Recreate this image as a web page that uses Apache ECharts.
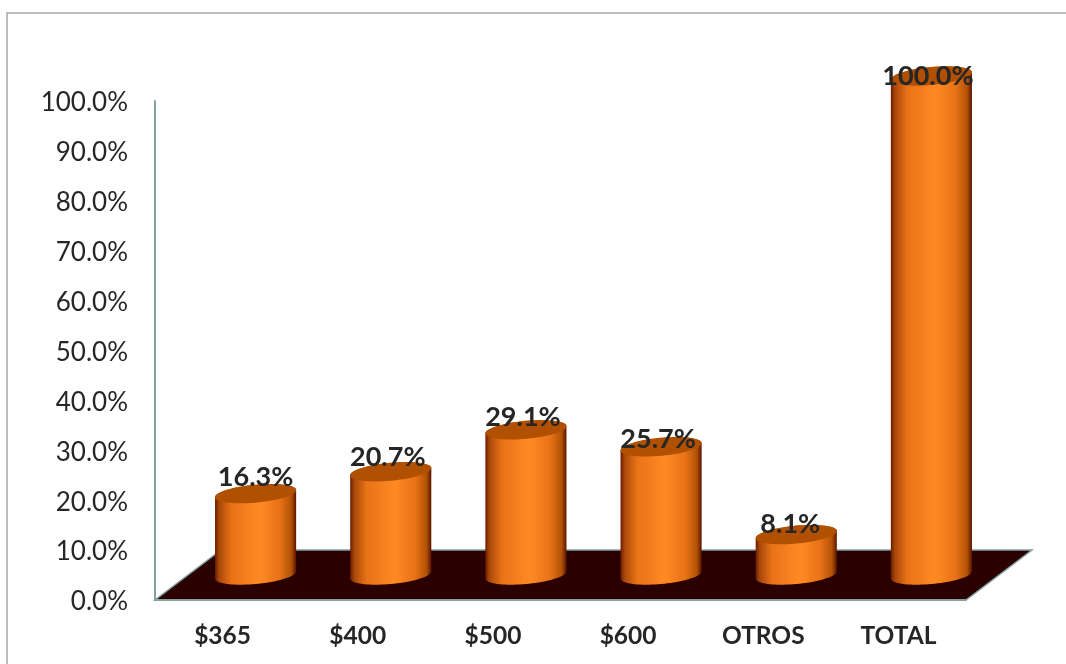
<!DOCTYPE html>
<html>
<head>
<meta charset="utf-8">
<style>html,body{margin:0;padding:0;background:#fff;overflow:hidden}#c{width:1066px;height:664px}</style>
<script src="https://cdn.jsdelivr.net/npm/echarts@6/dist/echarts.min.js"></script>
</head>
<body>
<div id="c"></div>
<script>
const categories = ['$365', '$400', '$500', '$600', 'OTROS', 'TOTAL'];
const values = [16.3, 20.7, 29.1, 25.7, 8.1, 100.0];

// layout and style, separate from the data
const FONT = 'Lato, "Noto Sans", sans-serif';
const INK = '#262626';
const AXIS = '#86a0a0';
const depthX = 66, depthY = -50;      // floor depth in pixels
const barWidthRatio = 0.6;
const ellipseB = 9, ellipseTilt = 3.6;
const labelLift = [16, 14, 12, 7, 10, 0];
const labelShift = [0, -3, -3, -3, -6, -3.5];

function ellipsePts(cx, cy, a, from, to, n) {
  const pts = [];
  for (let i = 0; i <= n; i++) {
    const t = from + (to - from) * i / n;
    pts.push([cx + a * Math.cos(t), cy + ellipseB * Math.sin(t) - ellipseTilt * Math.cos(t)]);
  }
  return pts;
}

function renderFloor(params, api) {
  const band = api.size([1, 0])[0];
  const o = api.coord([0, 0]);
  const e = api.coord([categories.length - 1, 0]);
  const x0 = o[0] - band / 2, x1 = e[0] + band / 2, y = o[1];
  return {
    type: 'polygon',
    shape: { points: [[x0, y], [x1, y], [x1 + depthX, y + depthY], [x0 + depthX, y + depthY]] },
    style: { fill: '#2b0000', stroke: AXIS, lineWidth: 1.5 },
    silent: true
  };
}

function renderCylinder(params, api) {
  const i = params.dataIndex;
  const v = api.value(1);
  const base = api.coord([i, 0]);
  const top = api.coord([i, v]);
  const band = api.size([1, 0])[0];
  const a = band * barWidthRatio / 2;
  const cx = base[0] + depthX / 2;
  const by = base[1] + depthY / 2;
  const ty = top[1] + depthY / 2;
  const body = ellipsePts(cx, by, a, 0, Math.PI, 40).concat(ellipsePts(cx, ty, a, Math.PI, 2 * Math.PI, 40));
  const cap = ellipsePts(cx, ty, a, 0, 2 * Math.PI, 80);
  return {
    type: 'group',
    children: [
      {
        type: 'polygon',
        shape: { points: body },
        style: {
          fill: {
            type: 'linear', x: 0, y: 0, x2: 1, y2: 0,
            colorStops: [
              { offset: 0, color: '#6a1c00' },
              { offset: 0.05, color: '#a8480a' },
              { offset: 0.2, color: '#e87216' },
              { offset: 0.55, color: '#ff8a24' },
              { offset: 0.8, color: '#e87216' },
              { offset: 0.94, color: '#b25206' },
              { offset: 1, color: '#5a1400' }
            ]
          }
        }
      },
      { type: 'polygon', shape: { points: cap }, style: { fill: '#b05000' } },
      {
        type: 'text',
        z2: 100,
        style: {
          text: v.toFixed(1) + '%',
          x: cx + labelShift[i],
          y: ty - labelLift[i],
          align: 'center',
          verticalAlign: 'middle',
          font: 'bold 27px ' + FONT,
          fill: INK
        }
      }
    ]
  };
}

const chart = echarts.init(document.getElementById('c'), null, { renderer: 'canvas' });
chart.setOption({
  animation: false,
  backgroundColor: '#fff',
  graphic: [{
    type: 'rect', silent: true, z: -1,
    shape: { x: 7, y: 13, width: 1200, height: 800 },
    style: { fill: 'none', stroke: '#a6a6a6', lineWidth: 1.5 }
  }],
  grid: { left: 155, top: 101, width: 811, height: 499, containLabel: false },
  xAxis: {
    type: 'category',
    data: categories,
    axisTick: { show: false },
    axisLine: { show: true, lineStyle: { color: AXIS, width: 2 } },
    axisLabel: { color: INK, fontWeight: 'bold', fontSize: 24.5, fontFamily: FONT, margin: 24 },
    splitLine: { show: false },
    z: 5
  },
  yAxis: {
    type: 'value',
    min: 0, max: 100, interval: 10,
    axisTick: { show: false },
    axisLine: { show: true, lineStyle: { color: AXIS, width: 2 } },
    axisLabel: { color: INK, fontSize: 26, fontFamily: FONT, margin: 27, verticalAlign: 'top', lineHeight: 4, formatter: v => v.toFixed(1) + '%' },
    splitLine: { show: false },
    z: 5
  },
  series: [
    { type: 'custom', name: 'floor', renderItem: renderFloor, data: [[0, 0]], z: 1, silent: true },
    {
      type: 'custom', name: 'share', renderItem: renderCylinder, z: 2, silent: true,
      encode: { x: 0, y: 1 },
      data: values.map((v, i) => [i, v])
    }
  ]
});
</script>
</body>
</html>
